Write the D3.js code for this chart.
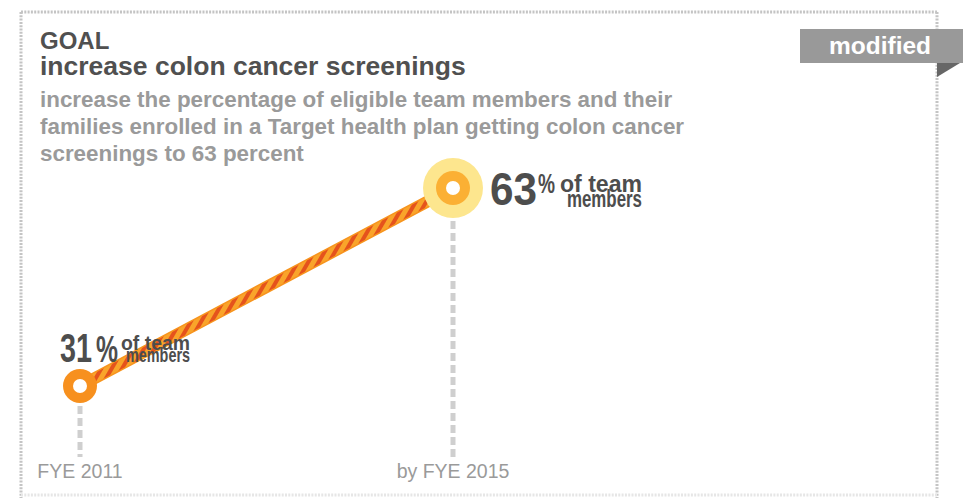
<!DOCTYPE html>
<html>
<head>
<meta charset="utf-8">
<script src="https://cdn.jsdelivr.net/npm/d3@7"></script>
<style>
  body { margin: 0; background: #fff; }
  svg { display: block; font-family: "Liberation Sans", Arial, Helvetica, sans-serif; }
</style>
</head>
<body>
<svg class="goal_svg" width="963" height="498"></svg>
<script>
// data
var periods = ["FYE 2011", "by FYE 2015"];
var percents = [31, 63];
var unitTop = "of team", unitBottom = "members";

var titleLines = ["GOAL", "increase colon cancer screenings"];
var subtitleLines = [
  "increase the percentage of eligible team members and their",
  "families enrolled in a Target health plan getting colon cancer",
  "screenings to 63 percent"
];
var badgeText = "modified";

var svg = d3.select(".goal_svg"),
    width = +svg.attr("width"),
    height = +svg.attr("height");

var x = d3.scalePoint().domain(periods).range([80, 453]);
var y = d3.scaleLinear().domain([31, 63]).range([386, 188]);

var pts = periods.map(function(p, i) { return {period: p, value: percents[i], i: i}; });

// dotted frame
var frame = svg.append("g")
    .attr("fill", "none")
    .attr("stroke", "#c4c4c4")
    .attr("stroke-width", 3)
    .attr("stroke-dasharray", "2,1.3");
frame.append("line").attr("x1", 21).attr("y1", 12).attr("x2", 937).attr("y2", 12);
frame.append("line").attr("x1", 21).attr("y1", 12).attr("x2", 21).attr("y2", height);
frame.append("line").attr("x1", 937).attr("y1", 12).attr("x2", 937).attr("y2", height);
frame.append("line").attr("x1", 21).attr("y1", 495).attr("x2", 937).attr("y2", 495)
    .attr("stroke", "#e6e6e6");

// badge
svg.append("rect")
    .attr("x", 800).attr("y", 29)
    .attr("width", 163).attr("height", 34)
    .attr("fill", "#999");
svg.append("path")
    .attr("d", "M937,63L960,63L937,77Z")
    .attr("fill", "#666");
svg.append("text")
    .attr("x", 880).attr("y", 54)
    .attr("text-anchor", "middle")
    .attr("fill", "#fff")
    .attr("font-weight", "bold")
    .attr("font-size", 24.5)
    .text(badgeText);

// titles
var titleSize = [24, 26.5];
svg.selectAll(".title")
    .data(titleLines)
    .enter().append("text")
    .attr("class", "title")
    .attr("x", 40)
    .attr("y", function(d, i) { return 49 + i * 26; })
    .attr("fill", "#505050")
    .attr("font-weight", "bold")
    .attr("font-size", function(d, i) { return titleSize[i]; })
    .text(function(d) { return d; });

svg.selectAll(".subtitle")
    .data(subtitleLines)
    .enter().append("text")
    .attr("class", "subtitle")
    .attr("x", 40)
    .attr("y", function(d, i) { return 107 + i * 27; })
    .attr("fill", "#9a9a9a")
    .attr("font-weight", "bold")
    .attr("font-size", 22.4)
    .text(function(d) { return d; });

// stripe pattern for the rope
var defs = svg.append("defs");
var pat = defs.append("pattern")
    .attr("id", "rope")
    .attr("patternUnits", "userSpaceOnUse")
    .attr("width", 9).attr("height", 9)
    .attr("patternTransform", "rotate(30)");
pat.append("rect").attr("width", 9).attr("height", 9).attr("fill", "#f9a42a");
pat.append("rect").attr("width", 4).attr("height", 9).attr("fill", "#e5531c");

// drop lines
var halo = [17, 30];
svg.selectAll(".drop")
    .data(pts)
    .enter().append("line")
    .attr("class", "drop")
    .attr("x1", function(d) { return x(d.period); })
    .attr("x2", function(d) { return x(d.period); })
    .attr("y1", function(d) { return y(d.value) + halo[d.i] + 3; })
    .attr("y2", 457)
    .attr("stroke", "#cfcfcf")
    .attr("stroke-width", 5)
    .attr("stroke-dasharray", "8,4");

svg.selectAll(".period")
    .data(pts)
    .enter().append("text")
    .attr("class", "period")
    .attr("x", function(d) { return x(d.period); })
    .attr("y", 478)
    .attr("text-anchor", "middle")
    .attr("fill", "#9a9a9a")
    .attr("font-size", 19.5)
    .text(function(d) { return d.period; });

// rope line
var line = d3.line()
    .x(function(d) { return x(d.period); })
    .y(function(d) { return y(d.value); });
svg.append("path").datum(pts)
    .attr("d", line)
    .attr("fill", "none")
    .attr("stroke", "#f7941d")
    .attr("stroke-width", 12);
svg.append("path").datum(pts)
    .attr("d", line)
    .attr("fill", "none")
    .attr("stroke", "url(#rope)")
    .attr("stroke-width", 9);

// markers
var last = pts[pts.length - 1];
svg.append("circle")
    .attr("cx", x(last.period)).attr("cy", y(last.value))
    .attr("r", 30).attr("fill", "#fde68e");
svg.selectAll(".dot")
    .data(pts)
    .enter().append("circle")
    .attr("class", "dot")
    .attr("cx", function(d) { return x(d.period); })
    .attr("cy", function(d) { return y(d.value); })
    .attr("r", 17)
    .attr("fill", function(d) { return d.i === 0 ? "#f7901e" : "#fbb034"; });
svg.selectAll(".hole")
    .data(pts)
    .enter().append("circle")
    .attr("class", "hole")
    .attr("cx", function(d) { return x(d.period); })
    .attr("cy", function(d) { return y(d.value); })
    .attr("r", 7)
    .attr("fill", "#fff");

// value labels (offsets from the point, condensed with textLength)
var labelLayout = [
  {dx: -20, dy: -24, num: [32, 40], pct: [4, 0, 22, 36], top: [3, -12, 69, 21], bot: [8, 0, 64, 21]},
  {dx: 37, dy: 17, num: [47, 46], pct: [1, -12, 17, 28], top: [5, -13, 82, 24], bot: [12, 2, 75, 24]}
];

pts.forEach(function(d) {
  var L = labelLayout[d.i];
  var gx = x(d.period) + L.dx, gy = y(d.value) + L.dy;
  var g = svg.append("g")
      .attr("transform", "translate(" + gx + "," + gy + ")")
      .attr("fill", "#4d4d4d")
      .attr("font-weight", "bold");
  var nx = L.num[0];
  g.append("text")
      .attr("x", 0).attr("y", 0)
      .attr("font-size", L.num[1])
      .attr("textLength", L.num[0])
      .attr("lengthAdjust", "spacingAndGlyphs")
      .text(d.value);
  var px = nx + L.pct[0];
  g.append("text")
      .attr("x", px).attr("y", L.pct[1])
      .attr("font-size", L.pct[3])
      .attr("textLength", L.pct[2])
      .attr("lengthAdjust", "spacingAndGlyphs")
      .text("%");
  var ux = px + L.pct[2];
  g.append("text")
      .attr("x", ux + L.top[0]).attr("y", L.top[1])
      .attr("font-size", L.top[3])
      .attr("textLength", L.top[2])
      .attr("lengthAdjust", "spacingAndGlyphs")
      .text(unitTop);
  g.append("text")
      .attr("x", ux + L.bot[0]).attr("y", L.bot[1])
      .attr("font-size", L.bot[3])
      .attr("textLength", L.bot[2])
      .attr("lengthAdjust", "spacingAndGlyphs")
      .text(unitBottom);
});
</script>
</body>
</html>
